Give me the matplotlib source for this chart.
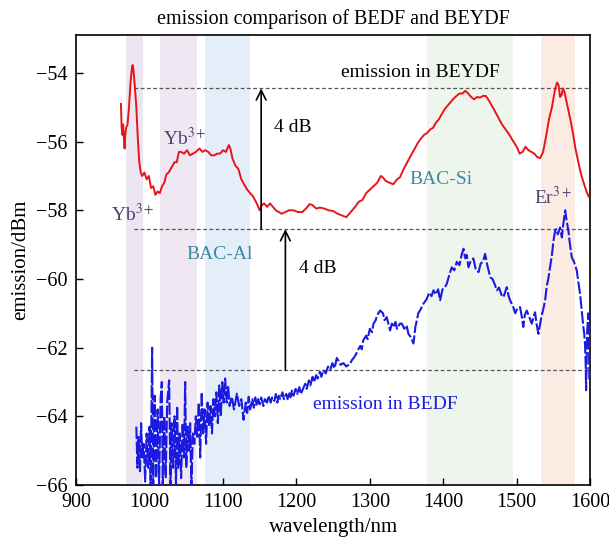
import matplotlib
matplotlib.use('Agg')
import matplotlib.pyplot as plt

plt.rcParams['font.family'] = ['Liberation Serif', 'DejaVu Serif']
plt.rcParams['mathtext.fontset'] = 'stix'

# BEYDF spectrum (red)
red_nm = [961, 962, 963, 964, 965, 966, 967, 968, 970, 972, 974, 976, 977, 978, 980,
          982, 984, 986, 988, 990, 993, 996, 999, 1002, 1005, 1008, 1011, 1014, 1017,
          1020, 1023, 1026, 1030, 1034, 1037, 1040, 1043, 1047, 1051, 1055, 1059, 1063,
          1068, 1072, 1076, 1080, 1084, 1088, 1092, 1096, 1100, 1104, 1108, 1110, 1113,
          1117, 1121, 1125, 1129, 1133, 1137, 1141, 1146, 1150, 1153, 1156, 1160, 1164,
          1168, 1172, 1176, 1180, 1185, 1190, 1196, 1202, 1208, 1213, 1218, 1222, 1227,
          1232, 1238, 1244, 1250, 1256, 1262, 1268, 1272, 1276, 1280, 1285, 1290, 1295,
          1300, 1305, 1310, 1315, 1318, 1322, 1327, 1332, 1337, 1341, 1346, 1351, 1356,
          1360, 1365, 1370, 1374, 1378, 1382, 1386, 1390, 1394, 1398, 1402, 1406, 1410,
          1414, 1418, 1422, 1426, 1430, 1434, 1438, 1442, 1446, 1450, 1454, 1458, 1462,
          1466, 1470, 1475, 1480, 1485, 1490, 1495, 1500, 1504, 1508, 1512, 1516, 1520,
          1524, 1528, 1532, 1536, 1540, 1544, 1548, 1552, 1555, 1557, 1559, 1561, 1563,
          1565, 1568, 1571, 1574, 1577, 1580, 1583, 1586, 1589, 1592, 1595, 1598]
red_dbm = [-54.9, -55.6, -55.8, -55.5, -55.9, -56.2, -55.8, -55.6, -55.5, -55.0, -54.3,
           -53.85, -53.77, -53.9, -54.4, -55.0, -55.9, -56.6, -56.9, -57.0, -56.9, -57.1,
           -57.0, -57.35, -57.3, -57.55, -57.45, -57.5, -57.3, -57.2, -56.95, -56.9,
           -56.75, -56.6, -56.6, -56.3, -56.3, -56.35, -56.25, -56.4, -56.35, -56.3,
           -56.2, -56.3, -56.25, -56.3, -56.4, -56.4, -56.35, -56.35, -56.25, -56.3,
           -56.1, -56.2, -56.5, -56.7, -56.8, -57.1, -57.25, -57.4, -57.5, -57.6, -57.8,
           -58.0, -57.85, -57.8, -57.9, -57.8, -57.9, -58.0, -58.05, -58.1, -58.05,
           -58.0, -58.0, -58.05, -58.05, -57.95, -57.82, -57.85, -57.95, -57.92, -57.95,
           -58.0, -58.02, -58.1, -58.15, -58.2, -58.1, -58.0, -57.9, -57.75, -57.7,
           -57.5, -57.4, -57.3, -57.2, -57.0, -57.05, -57.15, -57.2, -57.24, -57.1,
           -57.04, -56.8, -56.6, -56.4, -56.25, -56.05, -55.9, -55.8, -55.75, -55.65,
           -55.6, -55.45, -55.35, -55.2, -55.05, -54.95, -54.85, -54.75, -54.67, -54.6,
           -54.6, -54.52, -54.6, -54.7, -54.77, -54.7, -54.72, -54.67, -54.67, -54.8,
           -54.95, -55.1, -55.3, -55.5, -55.65, -55.8, -55.98, -56.15, -56.35, -56.3,
           -56.15, -56.25, -56.3, -56.35, -56.45, -56.48, -56.3, -55.85, -55.35, -55.0,
           -54.5, -54.28, -54.35, -54.7, -54.65, -54.45, -54.55, -54.85, -55.15, -55.45,
           -55.8, -56.2, -56.5, -56.8, -57.05, -57.25, -57.45, -57.6]

# BEDF spectrum (blue)
blue_nm = [982, 983.5, 985, 987, 988.5, 990, 992, 994, 996, 998, 1000, 1001.5, 1003.5,
           1005, 1007, 1009, 1011, 1013, 1015, 1016.7, 1018, 1020, 1022, 1024, 1026.7,
           1028.5, 1030, 1032, 1034, 1036, 1037.6, 1039, 1041, 1043, 1045, 1047, 1048.5,
           1050, 1052, 1054, 1055.3, 1057, 1059, 1061, 1063, 1065, 1067, 1069, 1071,
           1073, 1075, 1077, 1079, 1081, 1083, 1085, 1087, 1089, 1091, 1093, 1095, 1097,
           1099, 1101, 1103, 1105, 1107, 1109, 1112, 1115, 1119, 1122, 1125, 1128, 1131,
           1133, 1135, 1137, 1140, 1142, 1144, 1146, 1148, 1150, 1152, 1155, 1157, 1160,
           1162, 1165, 1167, 1170, 1172, 1174, 1176, 1178, 1181, 1183, 1186, 1188, 1190,
           1192, 1194, 1196, 1199, 1201, 1204, 1206, 1209, 1212, 1214, 1217, 1219, 1222,
           1224, 1227, 1229, 1232, 1234, 1237, 1240, 1243, 1246, 1249, 1252, 1255, 1257,
           1260, 1264, 1268, 1273, 1276, 1278, 1281, 1283, 1287, 1289, 1291, 1295, 1297,
           1300, 1303, 1305, 1308, 1310, 1314, 1318, 1320, 1323, 1327.6, 1330, 1332,
           1335, 1337, 1341, 1343.5, 1347, 1350, 1352.6, 1356, 1359.4, 1362, 1366, 1370,
           1373, 1377, 1381, 1384, 1386.7, 1390, 1393, 1395.7, 1399, 1402, 1404.8, 1408,
           1411.6, 1415, 1418.4, 1422, 1425, 1427.5, 1430, 1432, 1434.3, 1437, 1441,
           1444, 1448, 1451, 1454, 1457, 1460, 1464, 1467, 1470, 1473, 1476, 1479, 1482,
           1486.5, 1489, 1491, 1495, 1498, 1501, 1504.6, 1507, 1509, 1511, 1513.7, 1517,
           1520.5, 1523, 1525, 1527, 1529.6, 1532, 1534, 1536, 1538.7, 1541, 1543,
           1545.5, 1548, 1550, 1552.3, 1554, 1556, 1559, 1561.5, 1563.5, 1566, 1568,
           1570.4, 1572, 1575, 1578, 1581.8, 1584, 1586.3, 1588.5, 1590.8, 1592, 1593,
           1594, 1594.5, 1595.4, 1596, 1597.7, 1598.5, 1599]
blue_dbm = [-64.3, -65.5, -64.6, -65.6, -64.2, -65.2, -64.8, -65.9, -64.5, -65.5, -64.3,
            -66.0, -62.0, -66.0, -63.4, -65.8, -63.8, -66.0, -63.5, -63.0, -66.0, -64.0,
            -65.8, -63.6, -62.95, -66.0, -64.2, -65.5, -64.0, -66.0, -63.7, -65.5, -64.5,
            -65.8, -64.2, -65.2, -63.0, -65.5, -64.3, -65.0, -64.2, -66.0, -64.5, -64.8,
            -64.0, -64.6, -63.6, -65.2, -63.3, -64.5, -63.8, -64.8, -63.6, -64.3, -63.7,
            -64.5, -63.5, -64.0, -63.3, -64.2, -63.1, -64.0, -63.0, -63.6, -62.9, -63.6,
            -63.1, -63.7, -63.43, -63.8, -63.34, -63.7, -63.5, -64.1, -63.6,
            -63.9, -63.43, -63.8, -63.5, -63.75, -63.45, -63.7, -63.5, -63.65, -63.45,
            -63.7, -63.5, -63.6, -63.4, -63.6, -63.45, -63.55, -63.35, -63.6, -63.4,
            -63.5, -63.3, -63.5, -63.35, -63.5, -63.3, -63.45, -63.25, -63.4, -63.2,
            -63.35, -63.15, -63.35, -63.2, -63.05, -63.2, -62.95, -63.1, -62.85, -63.0,
            -62.8, -62.9, -62.7, -62.85, -62.65, -62.75, -62.55, -62.65, -62.45, -62.6,
            -62.3, -62.37, -62.5, -62.45, -62.55, -62.47, -62.35, -62.3, -62.2, -62.1,
            -61.95, -62.05, -61.79, -61.65, -61.75, -61.45, -61.55, -61.3, -61.2, -61.05,
            -60.92, -61.0, -61.2, -61.11, -61.5, -61.3, -61.4, -61.25, -61.45, -61.3,
            -61.3, -61.45, -61.35, -61.6, -61.7, -61.88, -61.4, -61.0, -60.85, -60.72,
            -60.6, -60.4, -60.5, -60.33, -60.45, -60.3, -60.62, -60.3, -60.25, -60.14,
            -59.9, -59.66, -59.75, -59.5, -59.6, -59.3, -59.12, -59.4, -59.3, -59.66,
            -59.5, -59.4, -59.7, -59.8, -59.55, -59.5, -59.27, -59.6, -59.95, -60.0,
            -60.15, -60.33, -60.25, -60.45, -60.53, -60.24, -60.5, -60.62, -60.8, -61.0,
            -60.85, -60.82, -61.1, -61.4, -61.05, -60.92, -61.1, -61.3, -61.1, -60.97,
            -61.3, -61.6, -61.3, -61.06, -60.9, -60.62, -60.2, -60.0, -59.66, -59.3,
            -58.9, -58.6, -58.55, -58.7, -58.5, -58.79, -58.4, -58.0, -58.3, -58.59,
            -58.9, -59.37, -59.5, -59.75, -60.1, -60.43, -60.9, -61.4, -61.6, -61.88,
            -62.5, -63.24, -62.3, -61.5, -61.0, -62.0, -63.0]

# shaded absorption/emission bands
band_start = [967.7, 1014, 1076, 1378, 1533]
band_end = [991, 1064, 1137, 1495, 1580]
band_color = ['#ebe6f2', '#efe7f1', '#e4eef9', '#eef5ec', '#fcebe2']

# reference levels for the 4 dB gaps
levels = [-54.45, -58.55, -62.66]

fig, ax = plt.subplots(figsize=(6.09, 5.41), dpi=100)
fig.subplots_adjust(left=0.125, right=0.969, bottom=0.1035, top=0.935)

for s, e, c in zip(band_start, band_end, band_color):
    ax.axvspan(s, e, color=c, lw=0, zorder=0)

ax.hlines(levels, 979, 1600, colors='#555555', linestyles=(0, (3, 2)), lw=0.9, zorder=1)

ax.plot(red_nm, red_dbm, color='#e8141a', lw=1.4, zorder=3)
ax.plot(blue_nm, blue_dbm, color='#1a1ae0', lw=1.5, ls=(0, (6, 1.2)), zorder=3)

arrow = dict(arrowstyle='->,head_length=0.7,head_width=0.35', lw=1.2, color='black',
             shrinkA=0, shrinkB=0)
ax.annotate('', xy=(1152, levels[0]), xytext=(1152, levels[1]), arrowprops=arrow, zorder=4)
ax.annotate('', xy=(1185, levels[1]), xytext=(1185, levels[2]), arrowprops=arrow, zorder=4)
ax.text(1170, -55.6, '4 dB', fontsize=14, va='center', ha='left')
ax.text(1203, -59.7, '4 dB', fontsize=14, va='center', ha='left')

ax.text(1369, -53.98, 'emission in BEYDF', fontsize=14, ha='center', va='center')
ax.text(1321, -63.67, 'emission in BEDF', fontsize=14, ha='center', va='center',
        color='#1a1ae0')

ax.text(1048, -55.9, 'Yb$^{3+}$', fontsize=14, ha='center', va='center', color='#4b4370')
ax.text(977, -58.1, 'Yb$^{3+}$', fontsize=14, ha='center', va='center', color='#4b4370')
ax.text(1550, -57.6, 'Er$^{3+}$', fontsize=14, ha='center', va='center', color='#4b4370')
ax.text(1096, -59.3, 'BAC-Al', fontsize=14, ha='center', va='center', color='#3e88a0')
ax.text(1397, -57.1, 'BAC-Si', fontsize=14, ha='center', va='center', color='#3e88a0')

ax.set_xlim(900, 1600)
ax.set_ylim(-66, -52.9)
ax.set_xticks(range(900, 1601, 100))
ax.set_yticks(range(-66, -53, 2))
ax.tick_params(direction='in', length=5, width=1, labelsize=14.5, pad=6)
for sp in ax.spines.values():
    sp.set_linewidth(1.2)

ax.set_title('emission comparison of BEDF and BEYDF', fontsize=14.5, pad=8)
ax.set_xlabel('wavelength/nm', fontsize=15, labelpad=4)
ax.set_ylabel('emission/dBm', fontsize=15, labelpad=4)

fig.savefig('out.png', dpi=100)
